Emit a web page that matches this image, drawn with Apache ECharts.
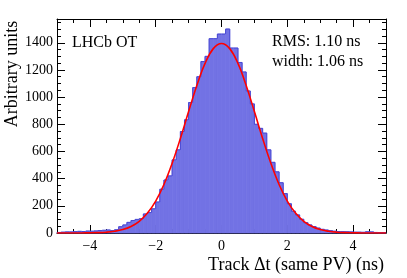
<!DOCTYPE html>
<html>
<head>
<meta charset="utf-8">
<script src="https://cdn.jsdelivr.net/npm/echarts@6/dist/echarts.min.js"></script>
<style>
html,body{margin:0;padding:0;background:#fff;}
#c{width:407px;height:278px;}
</style>
</head>
<body>
<div id="c"></div>
<script>
// Histogram: 80 bins from -5 to 5 ns (bin width 0.125 ns)
const binLow = -5;
const binWidth = 0.125;
const counts = [
  4, 6, 8, 8, 10, 12, 11, 14, 13, 15,
  18, 20, 22, 18, 24, 46, 59, 78, 92, 100,
  105, 140, 150, 178, 228, 322, 390, 420, 538, 612,
  747, 833, 960, 1070, 1150, 1262, 1300, 1430, 1430, 1464,
  1464, 1501, 1361, 1361, 1255, 1185, 1045, 950, 800, 770,
  735, 612, 520, 450, 370, 290, 215, 160, 133, 101,
  76, 59, 47, 36, 27, 22, 17, 13, 11, 10,
  9, 8, 6, 6, 5, 9, 8, 4, 3, 3
];
// Gaussian fit curve
const curveX = [-5, -4.75, -4.5, -4.25, -4, -3.75, -3.5, -3.25, -3, -2.75, -2.5, -2.25, -2, -1.75, -1.5, -1.25, -1, -0.75, -0.5, -0.25,
  0, 0.25, 0.5, 0.75, 1, 1.25, 1.5, 1.75, 2, 2.25, 2.5, 2.75, 3, 3.25, 3.5, 3.75, 4, 4.25, 4.5, 4.75, 5];
const curveY = [0, 0, 0.2, 0.5, 1.2, 2.7, 6, 12.7, 25, 48, 86, 147, 235, 357, 513, 696, 894, 1086, 1248, 1357,
  1395, 1357, 1248, 1086, 894, 696, 513, 357, 235, 147, 86, 48, 25, 12.7, 6, 2.7, 1.2, 0.5, 0.2, 0, 0];
const xMajorTicks = [-4, -2, 0, 2, 4];
const texts = { title: 'LHCb OT', rms: 'RMS: 1.10 ns', width: 'width: 1.06 ns',
  xName: 'Track \u0394t (same PV) (ns)', yName: 'Arbitrary units' };

const FONT = 'Liberation Serif';
const histData = counts.map((v, i) => [binLow + i * binWidth, binLow + (i + 1) * binWidth, v]);
const curveData = curveX.map((x, i) => [x, curveY[i]]);

const X_MIN = -5, X_MAX = 5, Y_MIN = 0, Y_MAX = 1575;

function xAxisDef(pos, major, show) {
  const a = {
    type: 'value', position: pos, min: X_MIN, max: X_MAX, interval: 0.5,
    splitLine: { show: false },
    axisLine: { show: !major, onZero: false, lineStyle: { color: '#000', width: 1 } },
    axisTick: { show: true, inside: true, length: major ? 8 : 4, lineStyle: { color: '#000', width: 1 } },
    axisLabel: { show: false }
  };
  if (major) a.axisTick.customValues = xMajorTicks;
  if (show) {
    a.axisLabel = {
      show: true, margin: 6, color: '#000', fontFamily: FONT, fontSize: 14,
      customValues: xMajorTicks,
      formatter: v => (Math.abs(v % 2) < 1e-9 ? String(v).replace('-', '\u2212') : '')
    };
  }
  return a;
}
function yAxisDef(pos, major, show) {
  const a = {
    type: 'value', position: pos, min: Y_MIN, max: Y_MAX,
    interval: major ? 200 : 50,
    splitLine: { show: false },
    axisLine: { show: !major, onZero: false, lineStyle: { color: '#000', width: 1 } },
    axisTick: { show: true, inside: true, length: major ? 8 : 4, lineStyle: { color: '#000', width: 1 } },
    axisLabel: { show: false }
  };
  if (show) {
    a.axisLabel = {
      show: true, margin: 4, color: '#000', fontFamily: FONT, fontSize: 14,
      showMaxLabel: false,
      formatter: v => (v % 200 === 0 ? String(v) : '')
    };
  }
  return a;
}

const chart = echarts.init(document.getElementById('c'), null, { renderer: 'canvas' });
chart.setOption({
  animation: false,
  backgroundColor: '#fff',
  grid: { left: 57, right: 21, top: 19, bottom: 45, containLabel: false },
  xAxis: [
    xAxisDef('bottom', false, true),
    xAxisDef('bottom', true, false),
    xAxisDef('top', false, false),
    xAxisDef('top', true, false)
  ],
  yAxis: [
    yAxisDef('left', false, true),
    yAxisDef('left', true, false),
    yAxisDef('right', false, false),
    yAxisDef('right', true, false)
  ],
  series: [
    {
      type: 'custom', xAxisIndex: 0, yAxisIndex: 0, z: 2,
      data: histData,
      renderItem: function (params, api) {
        const x0 = api.value(0), x1 = api.value(1), v = api.value(2);
        const i = params.dataIndex;
        const prev = i > 0 ? counts[i - 1] : 0;
        const p0 = api.coord([x0, v]);
        const p1 = api.coord([x1, 0]);
        const pp = api.coord([x0, prev]);
        return {
          type: 'group',
          children: [
            { type: 'rect', shape: { x: p0[0], y: p0[1], width: p1[0] - p0[0], height: p1[1] - p0[1] },
              style: { fill: '#7272e4', stroke: '#7272e4', lineWidth: 0.8 } },
            { type: 'line', shape: { x1: p0[0], y1: p0[1], x2: p1[0], y2: p0[1] },
              style: { stroke: '#4848d4', lineWidth: 1 } },
            { type: 'line', shape: { x1: p0[0], y1: pp[1], x2: p0[0], y2: p0[1] },
              style: { stroke: '#4848d4', lineWidth: 1 } }
          ]
        };
      }
    },
    {
      type: 'line', xAxisIndex: 0, yAxisIndex: 0, z: 5,
      data: curveData, smooth: 0.4, showSymbol: false, symbol: 'none',
      lineStyle: { color: '#ff0000', width: 1.6 }
    }
  ],
  graphic: [
    { type: 'text', x: 72, y: 43, style: { text: texts.title, font: '16px "Liberation Serif"', fill: '#000', textVerticalAlign: 'middle' } },
    { type: 'text', x: 272, y: 42, style: { text: texts.rms, font: '16px "Liberation Serif"', fill: '#000', textVerticalAlign: 'middle' } },
    { type: 'text', x: 272, y: 62, style: { text: texts.width, font: '16px "Liberation Serif"', fill: '#000', textVerticalAlign: 'middle' } },
    { type: 'text', x: 384, y: 265, style: { text: texts.xName, font: '18px "Liberation Serif"', fill: '#000', textAlign: 'right', textVerticalAlign: 'middle' } },
    { type: 'text', x: 12, y: 74, rotation: Math.PI / 2, style: { text: texts.yName, font: '18px "Liberation Serif"', fill: '#000', textAlign: 'center', textVerticalAlign: 'middle' } }
  ]
});
</script>
</body>
</html>
